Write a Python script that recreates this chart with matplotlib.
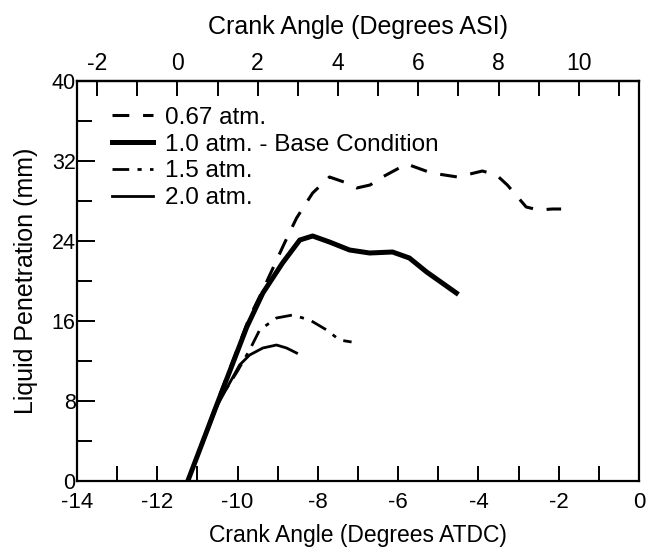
import numpy as np
import matplotlib
matplotlib.use("Agg")
import matplotlib.pyplot as plt

plt.rcParams['font.family'] = ['Liberation Sans', 'DejaVu Sans']
plt.rcParams['axes.unicode_minus'] = False

# Liquid penetration vs crank angle (ATDC) for each ambient pressure
x_067 = [-11.24, -10.5, -9.70, -9.37, -8.83, -8.53, -8.13, -7.71, -7.35, -7.03, -6.70,
         -6.39, -5.79, -5.17, -4.52, -3.90, -3.55, -3.28, -2.81, -2.50, -2.16, -1.94]
y_067 = [0.0, 8.0, 16.4, 19.1, 23.8, 26.3, 28.8, 30.4, 29.9, 29.3, 29.6,
         30.4, 31.7, 30.8, 30.4, 31.0, 30.6, 29.6, 27.4, 27.1, 27.2, 27.2]

x_10 = [-11.24, -10.5, -9.77, -9.37, -8.88, -8.45, -8.13, -7.71, -7.21, -6.71,
        -6.14, -5.72, -5.29, -4.55]
y_10 = [0.0, 7.8, 15.4, 18.8, 21.8, 24.1, 24.5, 23.9, 23.1, 22.8,
        22.9, 22.3, 20.9, 18.8]

x_15 = [-11.24, -10.5, -10.0, -9.70, -9.45, -9.03, -8.63, -8.20, -7.78, -7.46, -7.16]
y_15 = [0.0, 7.8, 11.0, 13.1, 15.1, 16.3, 16.6, 16.1, 15.1, 14.1, 13.9]

x_20 = [-11.24, -10.5, -9.95, -9.70, -9.37, -9.03, -8.78, -8.53]
y_20 = [0.0, 7.6, 11.6, 12.6, 13.3, 13.6, 13.3, 12.8]

labels = ["0.67 atm.", "1.0 atm. - Base Condition", "1.5 atm.", "2.0 atm."]

asi_offset = 11.5  # ASI = ATDC + 11.5

fig = plt.figure(figsize=(6.48, 5.51), dpi=100)
ax = fig.add_axes([77/648, 1 - 481/551, (639-77)/648, (481-81)/551])

ax.plot(x_067, y_067, color='black', lw=2.2, dashes=(5.5, 4.5), label=labels[0])
ax.plot(x_10, y_10, color='black', lw=3.6, label=labels[1])
ax.plot(x_15, y_15, color='black', lw=2.0, dashes=(6, 3, 1.5, 3), label=labels[2])
ax.plot(x_20, y_20, color='black', lw=2.0, label=labels[3])

ax.set_xlim(-14, 0)
ax.set_ylim(0, 40)
ax.set_xticks(np.arange(-14, 1, 2))
ax.set_xticks(np.arange(-14, 1, 1), minor=True)
ax.set_yticks(np.arange(0, 41, 8))
ax.set_yticks(np.arange(0, 41, 4), minor=True)

for s in ax.spines.values():
    s.set_linewidth(1.6)

ax.tick_params(axis='both', which='both', direction='in', width=1.4)
ax.tick_params(axis='x', which='both', length=11, pad=8, labelsize=16)
ax.tick_params(axis='y', which='major', length=13, pad=1, labelsize=15.5)
ax.tick_params(axis='y', which='minor', length=11)

ax.set_xlabel("Crank Angle (Degrees ATDC)", fontsize=16.5, labelpad=8)
ax.set_ylabel("Liquid Penetration (mm)", fontsize=18, labelpad=10)

# top axis in degrees ASI
top = ax.secondary_xaxis('top', functions=(lambda v: v + asi_offset, lambda v: v - asi_offset))
top.set_xticks(np.arange(-2, 11, 2))
top.set_xticks(np.arange(-2, 12, 1), minor=True)
top.tick_params(axis='x', which='both', direction='in', length=11, width=1.4, labelsize=16.5, pad=4)
top.spines['top'].set_linewidth(1.6)
top.set_xlabel("Crank Angle (Degrees ASI)", fontsize=18, labelpad=13)

leg = ax.legend(loc='upper left', frameon=False, fontsize=17.5, handlelength=1.7,
                handletextpad=0.5, labelspacing=0.2, borderaxespad=0.0,
                bbox_to_anchor=(0.045, 0.96))

fig.savefig("out.png", dpi=100)
